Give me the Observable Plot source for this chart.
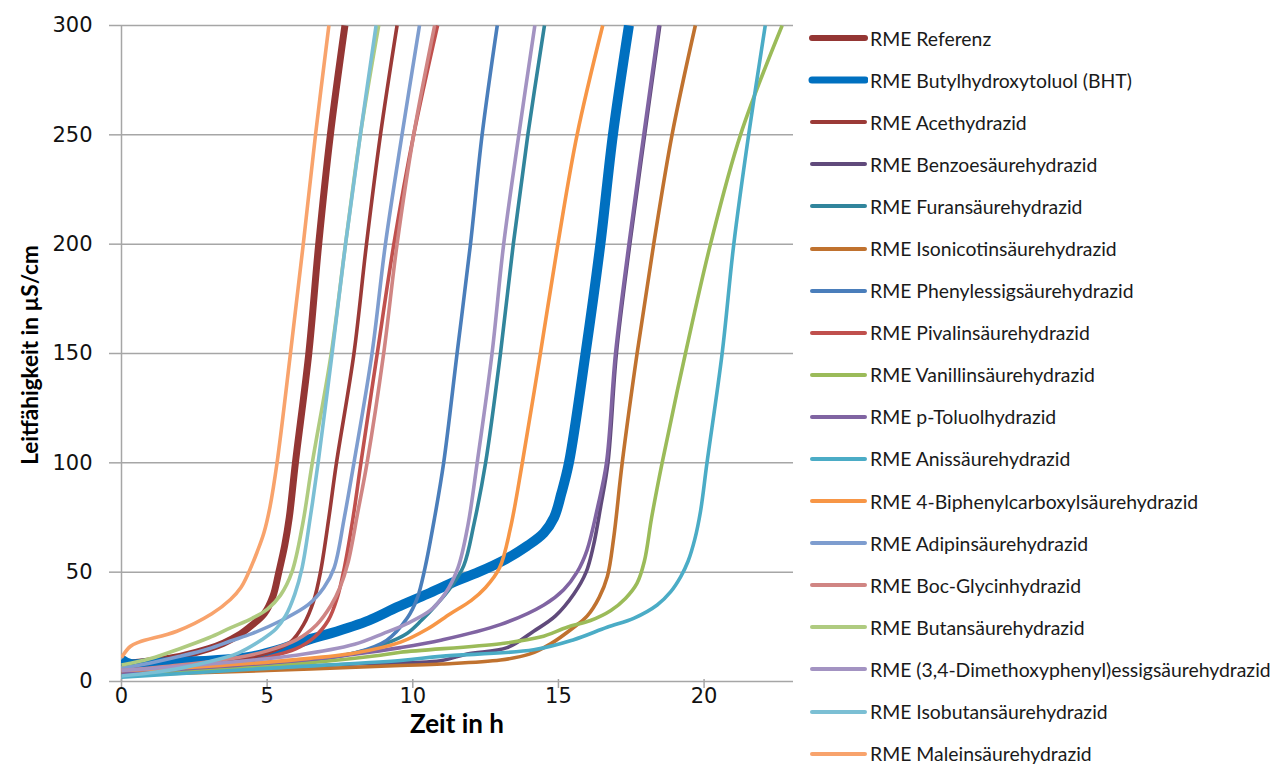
<!DOCTYPE html>
<html>
<head>
<meta charset="utf-8">
<script src="https://cdn.jsdelivr.net/npm/d3@7"></script>
<script src="https://cdn.jsdelivr.net/npm/@observablehq/plot@0.6"></script>
<style>
  html, body { margin: 0; padding: 0; background: #fff; }
  #wrap { position: relative; width: 1281px; height: 764px; overflow: hidden; }
  #chart { position: absolute; left: 0; top: 0; }
  #legend { position: absolute; left: 806px; top: 17px; font-family: Lato, "Open Sans", sans-serif; font-size: 19.4px; color: #1a1a1a; }
  .item { height: 42.1px; display: flex; align-items: center; white-space: nowrap; }
  .item svg { margin-right: 2px; }
  .title { position: absolute; font-family: Lato, sans-serif; font-weight: bold; color: #000; white-space: nowrap; }
  #xtitle { left: 257px; width: 400px; text-align: center; top: 708px; font-size: 26px; line-height: 30px; }
  #ytitle { left: 30px; top: 355px; font-size: 22.5px; line-height: 26px; transform: translate(-50%, -50%) rotate(-90deg); }
  g[aria-label="x-axis tick label"] text, g[aria-label="y-axis tick label"] text { font-family: "DejaVu Sans", sans-serif; font-size: 21px; fill: #111; }
</style>
</head>
<body>
<div id="wrap"><div id="chart"></div><div id="legend"></div>
<div class="title" id="xtitle"></div><div class="title" id="ytitle"></div></div>
<script>
// ---- data (time in h, conductivity in µS/cm) ----
const seriesNames = [
  "RME Referenz",
  "RME Butylhydroxytoluol (BHT)",
  "RME Acethydrazid",
  "RME Benzoesäurehydrazid",
  "RME Furansäurehydrazid",
  "RME Isonicotinsäurehydrazid",
  "RME Phenylessigsäurehydrazid",
  "RME Pivalinsäurehydrazid",
  "RME Vanillinsäurehydrazid",
  "RME p-Toluolhydrazid",
  "RME Anissäurehydrazid",
  "RME 4-Biphenylcarboxylsäurehydrazid",
  "RME Adipinsäurehydrazid",
  "RME Boc-Glycinhydrazid",
  "RME Butansäurehydrazid",
  "RME (3,4-Dimethoxyphenyl)essigsäurehydrazid",
  "RME Isobutansäurehydrazid",
  "RME Maleinsäurehydrazid"
];
const seriesColors = [
  "#943634", "#0070C0", "#9B3A37", "#604A7B", "#31859C", "#C0722F",
  "#4A7EBB", "#C0504D", "#9BBB59", "#8064A2", "#4BACC6", "#F79646",
  "#7E9DCF", "#D08583", "#AFCB80", "#A393C2", "#7BBFD4", "#F8A36C"
];
const seriesWidths = [7, 10, 3.6, 3.6, 3.6, 3.6, 3.6, 3.6, 3.6, 3.6, 3.6, 3.6, 3.6, 3.6, 3.6, 3.6, 3.6, 3.6];

const sReferenz = [[0,8],[1,9.5],[2,11.5],[3,15],[3.5,17.5],[4,21],[4.5,26],[4.9,31],[5.2,39],[5.4,50],[5.6,62],[5.76,75],[5.97,100],[6.43,150],[6.77,200],[7.17,250],[7.67,300]];
const sBHT = [[0,10],[0.3,8],[1,8.5],[2,9],[3,9.5],[4,10.5],[4.5,11.5],[5.5,15],[6.5,19.5],[7.17,22],[8.5,28],[9.46,34],[10.5,40],[11.5,46],[12.25,50],[13.2,56],[13.93,62],[14.5,68],[14.85,75],[15.1,86],[15.36,100],[15.93,150],[16.44,200],[16.87,250],[17.42,300]];
const sAcet = [[0,5],[2,7],[4,10],[5,13],[5.8,18],[6.25,26],[6.6,37],[6.83,50],[7.12,75],[7.38,100],[7.98,150],[8.41,200],[8.89,250],[9.46,300]];
const sBenzoe = [[0,3],[5,6],[8,8],[10.95,9.5],[11.87,12.6],[13.24,15.5],[14.15,23],[14.9,30],[15.53,40],[15.95,50],[16.2,62],[16.45,80],[16.7,100],[16.99,150],[17.45,200],[17.96,250],[18.48,300]];
const sFuran = [[0,4],[3,6],[6,9],[8,13],[9,17],[9.8,22],[10.3,28],[10.8,35],[11.3,43],[11.75,53],[12.1,72],[12.5,100],[13.01,150],[13.45,200],[13.95,250],[14.52,300]];
const sIsonicotin = [[0,3],[5,5],[9.58,7.3],[11,8],[13.01,9.8],[14,12.5],[14.73,17.2],[15.53,24.8],[15.99,30],[16.4,38.5],[16.68,48],[16.9,66],[17.19,100],[17.7,150],[18.27,200],[18.9,250],[19.7,300]];
const sPhenylessig = [[0,4],[3,6],[6,9],[8,13],[9.1,18.8],[9.81,29],[10.15,38],[10.42,52],[10.75,75],[11.06,100],[11.52,150],[11.98,200],[12.38,250],[12.9,300]];
const sPivalin = [[0,4],[2,6],[4,8.5],[5,11],[6,15],[6.6,20],[7.1,28],[7.4,38],[7.65,52],[7.95,75],[8.22,100],[8.78,150],[9.35,200],[10.03,250],[10.85,300]];
const sVanillin = [[0,4],[5,7],[8.89,12],[9.58,13.4],[13.01,17.3],[14.38,20.3],[15.3,24.8],[16.1,27.9],[16.8,32.5],[17.3,38],[17.7,45],[17.95,55],[18.2,75],[18.56,100],[19.36,150],[20.22,200],[21.25,250],[22.68,300]];
const sToluol = [[0,4],[3,6.5],[6,9.5],[8,12.5],[9.58,15.5],[11,19],[13,26],[14.5,35],[15.18,42],[15.64,50],[15.98,60],[16.35,80],[16.65,100],[16.96,150],[17.42,200],[17.93,250],[18.45,300]];
const sAnis = [[0,2],[5,6],[9.58,9.6],[10.95,11.5],[14.15,14.5],[15.5,19],[16.67,24.8],[17.6,29],[18.39,35],[18.85,41],[19.2,48],[19.45,55],[19.68,65],[19.88,78],[20.1,100],[20.62,150],[21.02,200],[21.53,250],[22.1,300]];
const sBiphenyl = [[0,5],[3,7],[6,10],[8,13],[9.58,18],[10.5,24],[11.29,31],[12.0,37],[12.5,43],[12.98,52],[13.35,70],[13.76,100],[14.38,150],[14.98,200],[15.64,250],[16.52,300]];
const sAdipin = [[0,6],[1,8.5],[2,11.5],[3,15],[3.74,18.5],[4.5,22],[5.5,28],[6.4,35],[6.95,43],[7.3,52],[7.65,75],[7.98,100],[8.6,150],[9.06,200],[9.63,250],[10.23,300]];
const sBoc = [[0,5],[2,7.5],[4,11],[5,14],[6,19],[6.7,26],[7.2,35],[7.5,43],[7.77,54],[8.12,78],[8.43,100],[9.0,150],[9.46,200],[10.03,250],[10.75,300]];
const sButan = [[0,7.5],[1,10.5],[2,15],[3,20],[3.74,24.5],[4.5,29],[5,33],[5.46,39.5],[5.85,50],[6.22,72],[6.55,100],[7.2,150],[7.69,200],[8.2,250],[8.83,300]];
const sDimethoxy = [[0,5],[3,8],[6,12],[8,17],[9,22],[9.8,26.5],[10.6,32.5],[11.1,40],[11.55,52],[11.9,72],[12.21,100],[12.72,150],[13.12,200],[13.64,250],[14.19,300]];
const sIsobutan = [[0,2.5],[1,4],[2,6],[3,9],[4,13],[4.8,19],[5.3,24],[5.63,30],[5.95,40],[6.2,52],[6.48,75],[6.75,100],[7.23,150],[7.69,200],[8.2,250],[8.74,300]];
const sMalein = [[0,11],[0.3,16],[0.6,18],[1.9,23],[3.1,31],[3.74,37.5],[4.1,43],[4.37,50],[4.65,59],[4.89,68],[5.1,80],[5.34,100],[5.8,150],[6.24,200],[6.66,250],[7.12,300]];

const seriesData = [sReferenz, sBHT, sAcet, sBenzoe, sFuran, sIsonicotin, sPhenylessig, sPivalin,
  sVanillin, sToluol, sAnis, sBiphenyl, sAdipin, sBoc, sButan, sDimethoxy, sIsobutan, sMalein];

const xTicks = [0, 5, 10, 15, 20];
const yTicks = [0, 50, 100, 150, 200, 250, 300];
const xLabel = "Zeit in h";
const yLabel = "Leitfähigkeit in µS/cm";

// ---- chart ----
const grid = "#a6a6a6";
const lineMarks = seriesData.map((pts, i) =>
  Plot.line(pts.map(([t, v]) => ({t, v})), {
    x: "t", y: "v", stroke: seriesColors[i], strokeWidth: seriesWidths[i],
    curve: "catmull-rom", clip: true, strokeLinejoin: "round", strokeLinecap: "butt"
  })
);

const chart = Plot.plot({
  width: 800, height: 764,
  marginTop: 25, marginBottom: 83, marginLeft: 121, marginRight: 7,
  x: {domain: [0, 23.07]},
  y: {domain: [0, 300]},
  marks: [
    Plot.gridY(yTicks.filter(d => d > 0), {stroke: grid, strokeOpacity: 1, strokeWidth: 1.5}),
    Plot.axisY({ticks: yTicks, tickSize: 12, tickPadding: 17, stroke: grid, strokeWidth: 1.5, label: null}),
    Plot.axisX({ticks: xTicks, tickSize: 9, tickPadding: 0, dy: -2, stroke: grid, strokeWidth: 1.5, label: null}),
    Plot.ruleY([0], {stroke: grid, strokeWidth: 1.5}),
    Plot.ruleX([0], {stroke: grid, strokeWidth: 1.5}),
    ...lineMarks
  ]
});
document.getElementById("chart").appendChild(chart);
document.getElementById("xtitle").textContent = xLabel;
document.getElementById("ytitle").textContent = yLabel;

// ---- legend ----
const legend = document.getElementById("legend");
seriesNames.forEach((name, i) => {
  const row = document.createElement("div");
  row.className = "item";
  const w = i === 0 ? 6 : (i === 1 ? 7 : 4);
  row.innerHTML = `<svg width="62" height="12"><line x1="6" x2="59" y1="6" y2="6" stroke="${seriesColors[i]}" stroke-width="${w}" stroke-linecap="round"/></svg><span>${name}</span>`;
  legend.appendChild(row);
});
</script>
</body>
</html>
